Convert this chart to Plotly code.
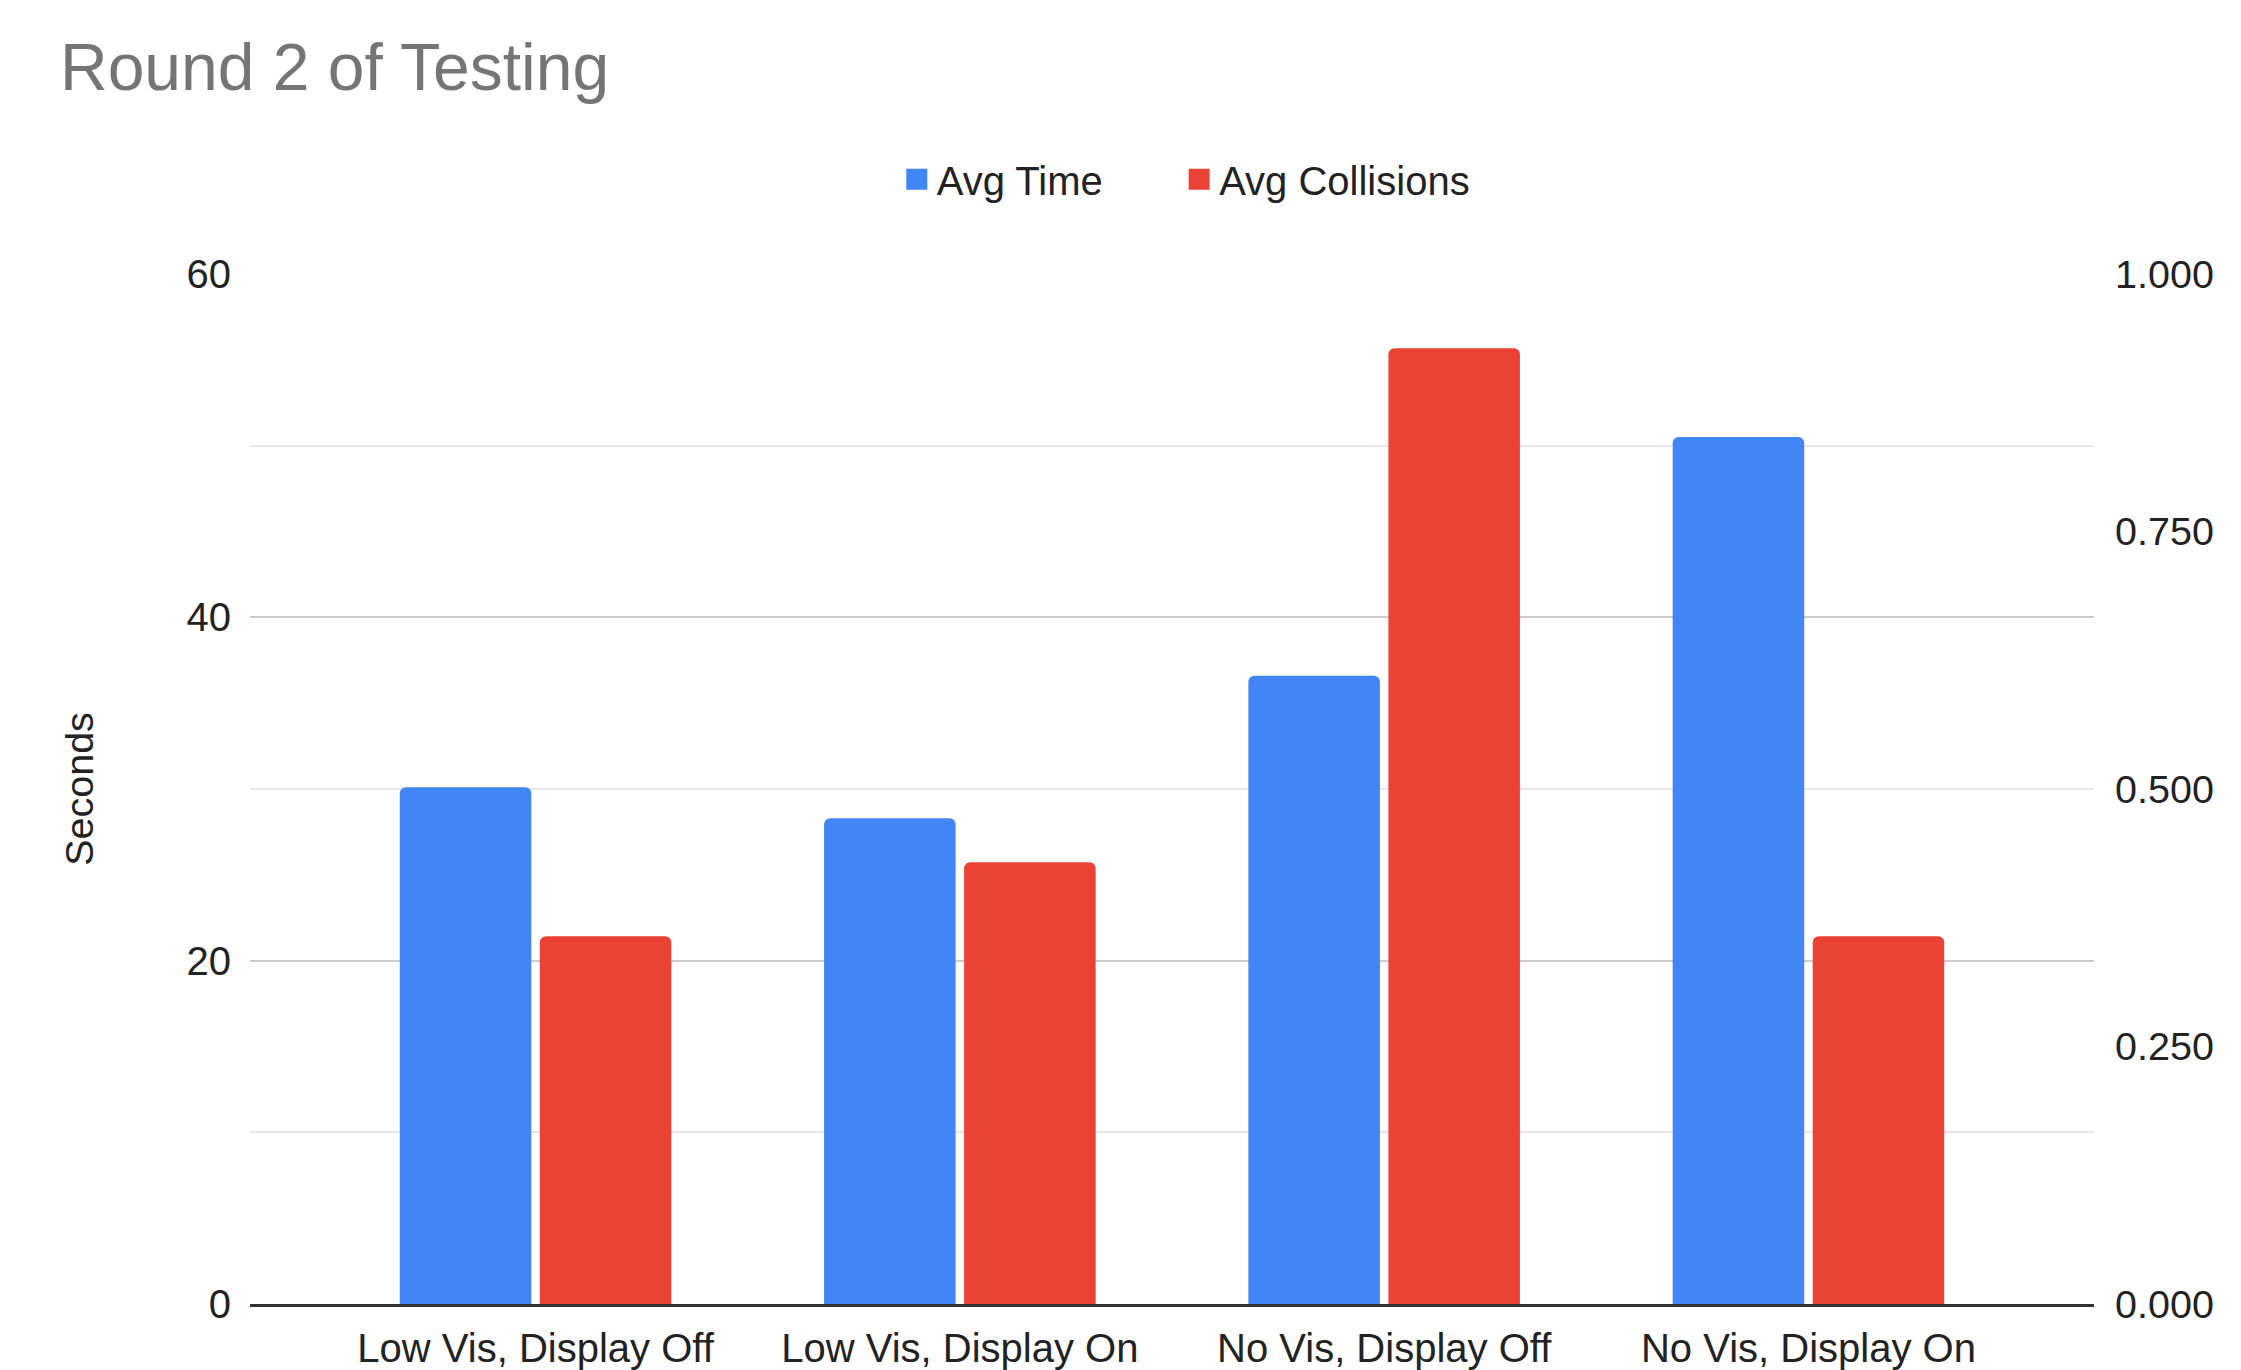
import plotly.graph_objects as go

categories = ["Low Vis, Display Off", "Low Vis, Display On", "No Vis, Display Off", "No Vis, Display On"]
avg_time = [30.1, 28.3, 36.6, 50.5]
avg_collisions = [0.357, 0.429, 0.928, 0.357]
left_ticks = [0, 20, 40, 60]
right_ticks = [0.0, 0.25, 0.5, 0.75, 1.0]

BLUE = "#4285F4"
RED = "#EA4335"
FONT = "Liberation Sans, Arial, sans-serif"
TXT = "#222222"

fig = go.Figure()
fig.add_trace(go.Bar(x=categories, y=avg_time, name="Avg Time", marker=dict(color=BLUE, cornerradius=6, line=dict(width=0)),
                     width=0.31, offset=-0.32, yaxis="y", showlegend=False))
fig.add_trace(go.Bar(x=categories, y=avg_collisions, name="Avg Collisions", marker=dict(color=RED, cornerradius=6, line=dict(width=0)),
                     width=0.31, offset=0.01, yaxis="y2", showlegend=False))
# legend entries
fig.add_trace(go.Scatter(x=[None], y=[None], mode="markers", name="Avg Time", legend="legend",
                         marker=dict(symbol="square", size=16, color=BLUE, line=dict(color=BLUE, width=5))))
fig.add_trace(go.Scatter(x=[None], y=[None], mode="markers", name="Avg Collisions", legend="legend2",
                         marker=dict(symbol="square", size=16, color=RED, line=dict(color=RED, width=5))))

legend_common = dict(orientation="h", xref="container", xanchor="left", yref="container", y=0.875, yanchor="middle",
                     font=dict(family=FONT, size=40, color=TXT), itemsizing="trace", bgcolor="rgba(0,0,0,0)")

fig.update_layout(
    width=2241, height=1370,
    paper_bgcolor="white", plot_bgcolor="white",
    font=dict(family=FONT, size=40, color=TXT),
    margin=dict(l=242, r=155, t=266, b=74, autoexpand=False),
    title=dict(text="Round 2 of Testing", font=dict(family=FONT, size=66, color="#757575"),
               xref="container", x=0.0232, xanchor="left", yref="container", y=0.9568, yanchor="middle"),
    legend=dict(x=0.3966, **legend_common),
    legend2=dict(x=0.5226, **legend_common),
    xaxis=dict(type="category", range=[-0.673, 3.673], showgrid=False, showline=True, linecolor="#333333", linewidth=3,
               ticks="", ticklabelstandoff=7, automargin=False, tickfont=dict(size=40, color=TXT)),
    yaxis=dict(range=[0, 60], tickvals=left_ticks, showgrid=True, gridcolor="#CCCCCC", gridwidth=2,
               minor=dict(dtick=10, showgrid=True, gridcolor="#E6E6E6", gridwidth=2),
               zeroline=False, ticks="", ticklabelstandoff=18, automargin=False,
               title=dict(text="Seconds", font=dict(size=39.5, color=TXT), standoff=80),
               tickfont=dict(size=40, color=TXT)),
    yaxis2=dict(range=[0, 1], tickvals=right_ticks, tickformat=".3f", overlaying="y", side="right", showgrid=False,
                zeroline=False, ticks="", ticklabelstandoff=20, automargin=False, tickfont=dict(size=39.5, color=TXT)),
    showlegend=True,
)

fig.write_html("out.html")
